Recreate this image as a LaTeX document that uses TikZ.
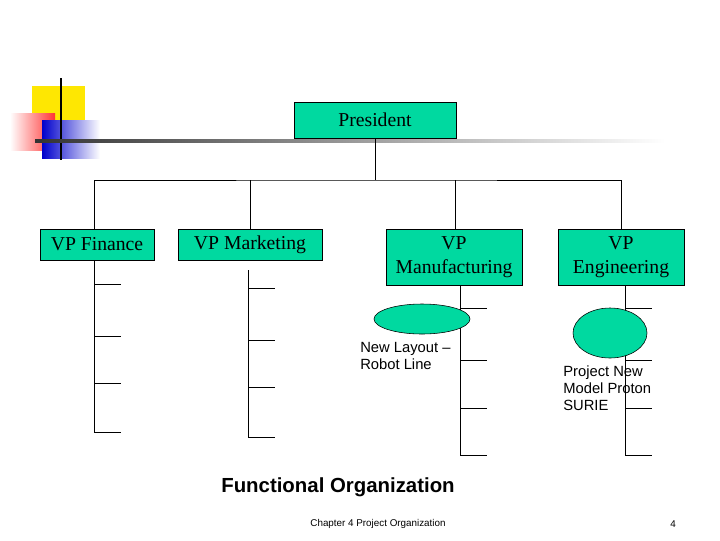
\documentclass[tikz,border=0pt]{standalone}
\usepackage{fontspec}
\setmainfont{Liberation Serif}
\newfontfamily\labelfont{Liberation Sans}
\usetikzlibrary{positioning,shapes.geometric}
\definecolor{boxgreen}{RGB}{0,217,160}
\begin{document}
\begin{tikzpicture}
            [x=0.025cm,y=-0.025cm,thin,
             box/.style={draw,fill=boxgreen,inner sep=0pt,font=\fontsize{14}{17}\selectfont,align=center},
             blob/.style={draw,ellipse,fill=boxgreen,inner sep=0pt},
             note/.style={font=\labelfont\fontsize{10.5}{12}\selectfont,align=left,anchor=north west,inner sep=0pt}]
            \useasboundingbox (0,0) rectangle (720,540);
            % corner decoration
            \fill[yellow!90!orange] (32,86) rectangle (85,140);
            \shade[left color=white,right color=red!80] (10,113) rectangle (55,150);
            \shade[left color=blue!80!black,right color=white] (42,120) rectangle (100,158);
            \draw[thick] (61,78) -- (61,160);
            \shade[left color=black!80,right color=white] (35,139) rectangle (665,142);
            % boxes
            \node[box,minimum width=4.05cm,minimum height=0.9cm] (P) at (375,120) {President};
            \node[box,minimum width=2.85cm,minimum height=0.775cm] (F) at (97,244.5) {VP Finance};
            \node[box,minimum width=3.6cm,minimum height=0.775cm] (M) at (250,244.5) {VP Marketing};
            \node[box,minimum width=3.4cm,minimum height=1.4cm] (U) at (454,257) {VP\\Manufacturing};
            \node[box,minimum width=3.15cm,minimum height=1.4cm] (E) at (621,257) {VP\\Engineering};
            \coordinate (bar) at (375,180);
            \draw[semithick] (P.south) -- (bar);
            \draw (94,229) |- (bar) -| (621,229);
            \draw (250,229) -- (250,180);
            \draw (455,229) -- (455,180);
            % staff lines
            \draw (94,260) -- (94,432);
            \foreach \y in {284,336,383,432} \draw (94,\y) -- ++(27,0);
            \draw (248,270) -- (248,437);
            \foreach \y in {288,340,387,437} \draw (248,\y) -- ++(27,0);
            \draw (460,285) -- (460,455);
            \foreach \y in {308,360,408,455} \draw (460,\y) -- ++(27,0);
            \draw (625,285) -- (625,455);
            \foreach \y in {308,360,408,455} \draw (625,\y) -- ++(27,0);
            % projects
            \node[blob,minimum width=2.4cm,minimum height=0.75cm] (L) at (422,319) {};
            \node[blob,minimum width=1.85cm,minimum height=1.25cm] (N) at (610,333) {};
            \node[note] (Lt) at (360,342) {New Layout \textendash\\Robot Line};
            \node[note] (Nt) at (563,366) {Project New\\Model Proton\\SURIE};
            % captions
            \node[font=\labelfont\bfseries\fontsize{14.5}{16}\selectfont] (T) at (338,487) {Functional Organization};
            \node[font=\labelfont\fontsize{7}{8}\selectfont] (C) at (378,524) {Chapter 4 Project Organization};
            \node[font=\labelfont\fontsize{7}{8}\selectfont] (n) at (673,524) {4};
        \end{tikzpicture}
\end{document}
